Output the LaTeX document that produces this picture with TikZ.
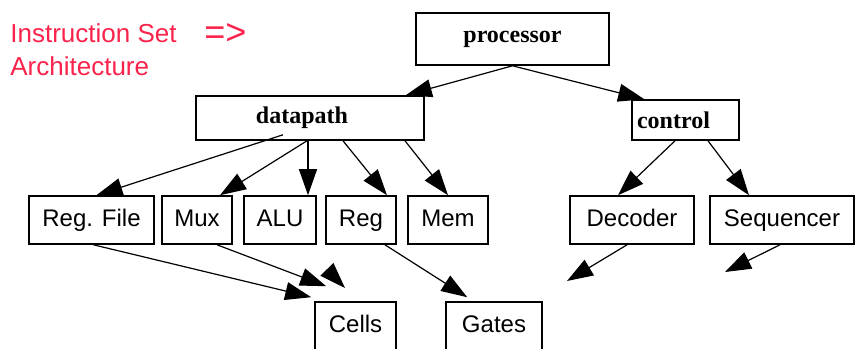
\documentclass[tikz,border=0pt]{standalone}
\usepackage{fontspec}
\setmainfont{Liberation Serif}
\setsansfont{Liberation Sans}
\usetikzlibrary{arrows.meta}
\definecolor{isared}{RGB}{250,35,75}

\begin{document}
\begin{tikzpicture}[
    x=0.5pt, y=-0.5pt,
    unit box/.style={draw, line width=0.8pt, inner sep=0pt, minimum height=24pt,
      text height=8.6pt, text depth=2.5pt,
      font=\sffamily\fontsize{12}{14}\selectfont},
    top box/.style={draw, line width=0.8pt, inner sep=0pt,
      font=\rmfamily\bfseries\fontsize{12}{14}\selectfont},
    pile/.style={line width=0.6pt, -{Triangle[length=13pt,width=9pt]}},
    isa text/.style={color=isared, inner sep=0pt, anchor=base west,
      font=\sffamily\fontsize{13}{16}\selectfont}
    ]
    \useasboundingbox (0,0) rectangle (856,348);

    % instruction set architecture
    \node[isa text] (isa) at (10,42) {Instruction Set};
    \node[isa text] (arch) at (10,75) {Architecture};
    \node[isa text, font=\sffamily\fontsize{18}{20}\selectfont] (imply) at (204,44) {=>};

    % top level
    \node[top box, minimum width=96.5pt, minimum height=26pt] (proc) at (512.5,39) {processor};
    \node[top box, minimum width=114pt, minimum height=22pt] (dp) at (310,118) {\hspace*{-8pt}datapath};
    \node[top box, minimum width=53.5pt, minimum height=20pt] (ctl) at (685.5,120) {\hspace*{-12pt}control};

    % units
    \node[unit box, minimum width=62.5pt] (regfile) at (91.5,220) {Reg. File};
    \node[unit box, minimum width=35pt] (mux) at (197,220) {Mux};
    \node[unit box, minimum width=36pt] (alu) at (280,220) {ALU};
    \node[unit box, minimum width=35pt] (reg) at (361,220) {Reg};
    \node[unit box, minimum width=40pt] (mem) at (448,220) {Mem};
    \node[unit box, minimum width=62pt] (dec) at (632,220) {Decoder};
    \node[unit box, minimum width=72pt] (seq) at (782,220) {Sequencer};

    \node[unit box, minimum width=40.5pt] (cells) at (355.5,326) {Cells};
    \node[unit box, minimum width=48pt] (gates) at (494,326) {Gates};

    % free ends
    \coordinate (decend) at (567,281);
    \coordinate (seqend) at (725,272);
    \coordinate (strayfrom) at (327,269.5);
    \coordinate (straytip) at (345,288);

    % processor
    \draw[pile] (proc.south) -- ([xshift=-9.5pt]dp.north east);
    \draw[pile] (proc.south) -- ([xshift=6.5pt]ctl.north west);

    % datapath
    \draw[pile] ([xshift=-13.5pt,yshift=3pt]dp.south) -- ([xshift=2.5pt]regfile.north);
    \draw[pile] ([xshift=-1.5pt]dp.south) -- ([xshift=11.5pt]mux.north);
    \draw[pile] ([xshift=-1pt]dp.south) -- ([xshift=14pt]alu.north);
    \draw[pile] ([xshift=16.5pt]dp.south) -- ([xshift=13pt]reg.north);
    \draw[pile] ([xshift=47.5pt]dp.south) -- (mem.north);

    % control
    \draw[pile] ([xshift=-5.25pt]ctl.south) -- ([xshift=-7pt]dec.north);
    \draw[pile] ([xshift=11.25pt]ctl.south) -- ([xshift=-16.5pt]seq.north);
    \draw[pile] ([xshift=-2.5pt]dec.south) -- (decend);
    \draw[pile] ([xshift=-1pt]seq.south) -- (seqend);

    % cells and gates
    \draw[pile] ([xshift=1pt]regfile.south) -- ([xshift=-1.5pt,yshift=2pt]cells.north west);
    \draw[pile] ([xshift=10pt]mux.south) -- ([xshift=6pt,yshift=7.5pt]cells.north west);
    \draw[pile] (strayfrom) -- (straytip);
    \draw[pile] ([xshift=12pt]reg.south) -- ([xshift=11pt,yshift=2pt]gates.north west);

\end{tikzpicture}
\end{document}
